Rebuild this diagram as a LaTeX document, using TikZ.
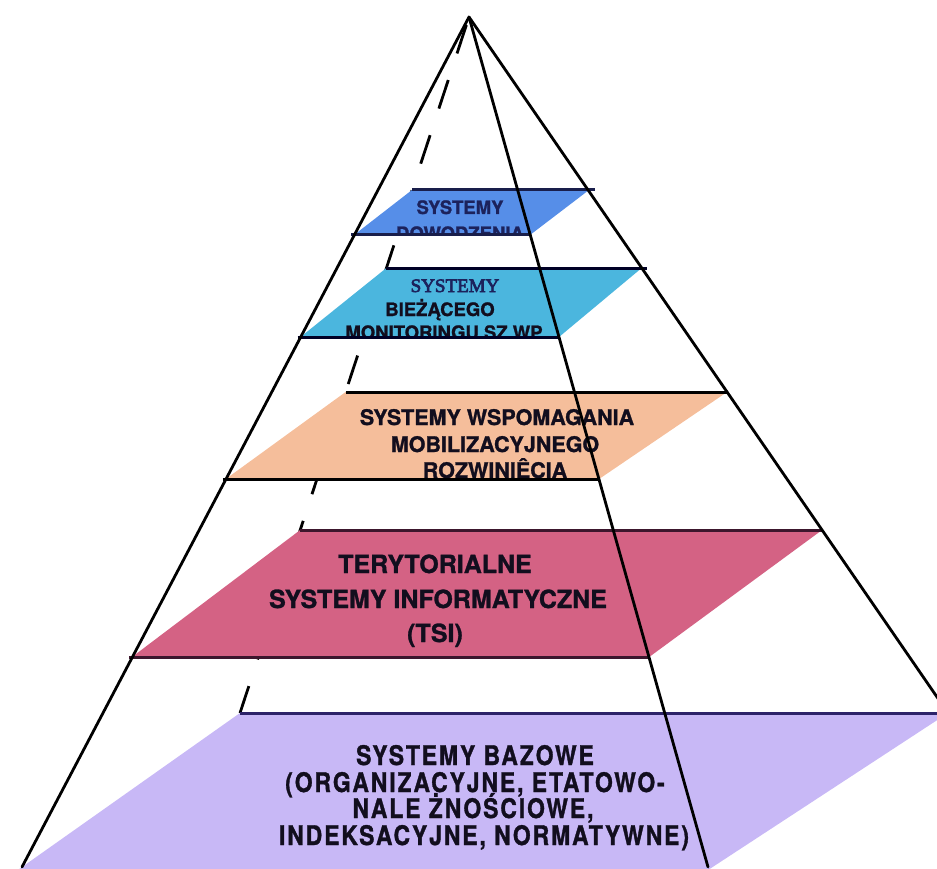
\documentclass[tikz,border=0pt]{standalone}
\usepackage{fontspec}
\newfontfamily\heros[FakeBold=1.2]{TeX Gyre Heros}
\newfontfamily\serifb[FakeBold=3.5]{Liberation Serif}
\newfontfamily\bazfont[FakeStretch=0.85,LetterSpace=7,FakeBold=1.2]{TeX Gyre Heros}
\usetikzlibrary{calc}
\definecolor{tOne}{RGB}{86,142,232}
\definecolor{tTwo}{RGB}{75,182,222}
\definecolor{tThree}{RGB}{245,190,155}
\definecolor{tFour}{RGB}{212,98,132}
\definecolor{tFive}{RGB}{200,184,246}
\definecolor{navytxt}{RGB}{28,34,92}
\definecolor{darktxt}{RGB}{18,14,30}
\definecolor{lineOne}{RGB}{25,30,75}
\definecolor{lineFour}{RGB}{60,22,45}
\definecolor{lineFive}{RGB}{45,35,105}
\begin{document}
\begin{tikzpicture}[x=1pt,y=-1pt,
  edge/.style={line width=2.8pt,black,line cap=round},
  hiddenedge/.style={line width=2.8pt,black,dash pattern=on 30pt off 28pt,dash phase=49.6pt},
  tierline/.style={line width=3pt},
  lbl/.style={anchor=base,inner sep=0pt},
]
\useasboundingbox (0,0) rectangle (937,869);
% pyramid corners
\coordinate (A) at (469,17);
\coordinate (FL) at (22,867);
\coordinate (FR) at (708,867);
\coordinate (BR) at (948,713);
\coordinate (BL) at (240,713);
\coordinate (FLx) at (15,872);
\coordinate (FRx) at (705,872);
% tier corners
\coordinate (t1fl) at (354,235); \coordinate (t1fr) at (530,235);
\coordinate (t1bl) at (412,190); \coordinate (t1br) at (589,190);
\coordinate (t2fl) at (300.5,337); \coordinate (t2fr) at (559,337);
\coordinate (t2bl) at (386.4,268); \coordinate (t2br) at (641.7,268);
\coordinate (t3fl) at (225.8,479); \coordinate (t3fr) at (599.1,479);
\coordinate (t3bl) at (345.6,392); \coordinate (t3br) at (727.1,392);
\coordinate (t4fl) at (132,657); \coordinate (t4fr) at (649.2,657);
\coordinate (t4bl) at (300.2,530); \coordinate (t4br) at (822.1,530);

% hidden back edge
\draw[hiddenedge] (A) -- (BL);

% tier fills
\fill[tFive] (FLx) -- (FRx) -- (BR) -- (BL) -- cycle;
\fill[tFour] (t4fl) -- (t4fr) -- (t4br) -- (t4bl) -- cycle;
\fill[tThree] (t3fl) -- (t3fr) -- (t3br) -- (t3bl) -- cycle;
\fill[tTwo] (t2fl) -- (t2fr) -- (t2br) -- (t2bl) -- cycle;
\fill[tOne] (t1fl) -- (t1fr) -- (t1br) -- (t1bl) -- cycle;

% labels
\begin{scope}
\clip (t1fl) -- (t1fr) -- (t1br) -- (t1bl) -- cycle;
\node[lbl,text=navytxt,font=\heros\bfseries\fontsize{18.5}{20}\selectfont] (l1a) at (460,214) {SYSTEMY};
\node[lbl,text=navytxt,font=\heros\bfseries\fontsize{18.5}{20}\selectfont] (l1b) at (460,240) {DOWODZENIA};
\end{scope}
\begin{scope}
\clip (t2fl) -- (t2fr) -- (t2br) -- (t2bl) -- cycle;
\node[lbl,text=navytxt,font=\serifb\fontsize{19}{20}\selectfont] (l2a) at (455,292) {SYSTEMY};
\node[lbl,text=darktxt,font=\heros\bfseries\fontsize{18.5}{20}\selectfont] (l2b) at (440,316) {BIEŻĄCEGO};
\node[lbl,text=darktxt,font=\heros\bfseries\fontsize{18.5}{20}\selectfont] (l2c) at (444,339) {MONITORINGU SZ WP};
\end{scope}
\node[lbl,text=darktxt,font=\heros\bfseries\fontsize{21.5}{24}\selectfont] (l3a) at (497,425) {SYSTEMY WSPOMAGANIA};
\node[lbl,text=darktxt,font=\heros\bfseries\fontsize{21.5}{24}\selectfont] (l3b) at (495,452) {MOBILIZACYJNEGO};
\node[lbl,text=darktxt,font=\heros\bfseries\fontsize{21.5}{24}\selectfont] (l3c) at (495,478) {ROZWINIÊCIA};
\node[lbl,text=darktxt,font=\heros\bfseries\fontsize{25}{28}\selectfont] (l4a) at (435,573) {TERYTORIALNE};
\node[lbl,text=darktxt,font=\heros\bfseries\fontsize{25}{28}\selectfont] (l4b) at (438,608) {SYSTEMY INFORMATYCZNE};
\node[lbl,text=darktxt,font=\heros\bfseries\fontsize{25}{28}\selectfont] (l4c) at (435,642) {(TSI)};
\node[lbl,text=darktxt,font=\bazfont\bfseries\fontsize{27}{30}\selectfont] (l5a) at (475,765) {SYSTEMY BAZOWE};
\node[lbl,text=darktxt,font=\bazfont\bfseries\fontsize{27}{30}\selectfont] (l5b) at (475,792) {(ORGANIZACYJNE, ETATOWO-};
\node[lbl,text=darktxt,font=\bazfont\bfseries\fontsize{27}{30}\selectfont] (l5c) at (473,818) {NALE ŻNOŚCIOWE,};
\node[lbl,text=darktxt,font=\bazfont\bfseries\fontsize{27}{30}\selectfont] (l5d) at (484,845) {INDEKSACYJNE, NORMATYWNE)};

% tier top and bottom lines
\draw[tierline,lineOne] (t1bl) -- ($(t1br)+(6,0)$);
\draw[tierline,lineOne] ($(t1fl)-(3,0)$) -- (t1fr);
\draw[tierline,black!85!blue] (t2bl) -- ($(t2br)+(5,0)$);
\draw[tierline,black!85!blue] ($(t2fl)-(3,0)$) -- (t2fr);
\draw[tierline,black] (t3bl) -- (t3br);
\draw[tierline,black] ($(t3fl)-(3,0)$) -- (t3fr);
\draw[tierline,lineFour] (t4bl) -- (t4br);
\draw[tierline,lineFour] ($(t4fl)-(3,0)$) -- (t4fr);
\draw[tierline,lineFive] (BL) -- (BR);

% visible pyramid edges
\draw[edge] (A) -- (FL);
\draw[edge] (A) -- (FR);
\draw[edge] (A) -- (BR);
\end{tikzpicture}
\end{document}
